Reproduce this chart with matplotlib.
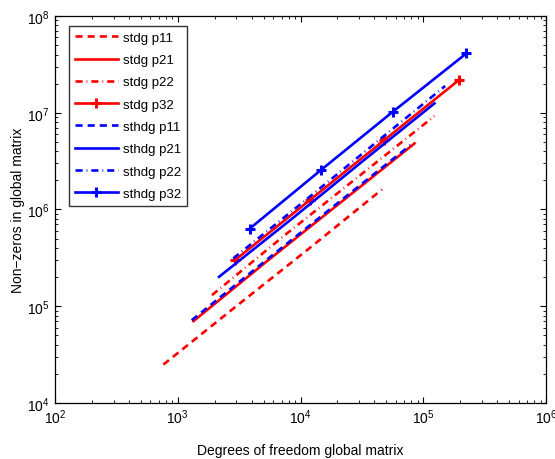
import matplotlib
matplotlib.use("Agg")
import matplotlib.pyplot as plt
from matplotlib.ticker import LogLocator, NullFormatter

plt.rcParams['font.family'] = ['Liberation Sans', 'DejaVu Sans']
plt.rcParams['mathtext.default'] = 'regular'

# Data
stdg_p11_dof = [764, 3000, 11900, 46100]
stdg_p11_nnz = [24900, 1.0e5, 4.0e5, 1.61e6]
stdg_p21_dof = [1343, 5300, 21200, 84900]
stdg_p21_nnz = [70000, 2.9e5, 1.18e6, 4.82e6]
stdg_p22_dof = [1900, 7550, 30500, 123300]
stdg_p22_nnz = [1.30e5, 5.5e5, 2.25e6, 9.25e6]
stdg_p32_dof = [2925, 11900, 48000, 195000]
stdg_p32_nnz = [2.99e5, 1.25e6, 5.2e6, 2.18e7]
sthdg_p11_dof = [1300, 5100, 20000, 78500]
sthdg_p11_nnz = [71600, 2.9e5, 1.16e6, 4.63e6]
sthdg_p21_dof = [2168, 8500, 32500, 123300]
sthdg_p21_nnz = [2.01e5, 8.0e5, 3.2e6, 1.25e7]
sthdg_p22_dof = [2830, 11000, 41000, 150600]
sthdg_p22_nnz = [3.11e5, 1.25e6, 4.9e6, 1.89e7]
sthdg_p32_dof = [3866, 14630, 56230, 224400]
sthdg_p32_nnz = [6.35e5, 2.55e6, 1.02e7, 4.11e7]

labels = ['stdg p11', 'stdg p21', 'stdg p22', 'stdg p32',
          'sthdg p11', 'sthdg p21', 'sthdg p22', 'sthdg p32']

fig = plt.figure(figsize=(5.55, 4.6), dpi=100)
ax = fig.add_axes([0.099, 0.122, 0.885, 0.841])

lw = 1.9
dash = (0, (2.7, 1.9))
dashdot = (0, (2.7, 1.5, 0.3, 1.5))
red = '#ff0000'
blue = '#0000ff'

series = [
    (stdg_p11_dof, stdg_p11_nnz, red, dash, None),
    (stdg_p21_dof, stdg_p21_nnz, red, '-', None),
    (stdg_p22_dof, stdg_p22_nnz, red, dashdot, None),
    (stdg_p32_dof, stdg_p32_nnz, red, '-', '+'),
    (sthdg_p11_dof, sthdg_p11_nnz, blue, dash, None),
    (sthdg_p21_dof, sthdg_p21_nnz, blue, '-', None),
    (sthdg_p22_dof, sthdg_p22_nnz, blue, dashdot, None),
    (sthdg_p32_dof, sthdg_p32_nnz, blue, '-', '+'),
]
for (x, y, c, ls, m), lab in zip(series, labels):
    ax.loglog(x, y, color=c, linestyle=ls, linewidth=lw, marker=m,
              markersize=7, markeredgewidth=2.2, label=lab)

ax.set_xlim(1e2, 1e6)
ax.set_ylim(1e4, 1e8)
ax.xaxis.set_major_locator(LogLocator(base=10, numticks=10))
ax.yaxis.set_major_locator(LogLocator(base=10, numticks=10))
ax.xaxis.set_minor_locator(LogLocator(base=10, subs=range(2, 10), numticks=20))
ax.yaxis.set_minor_locator(LogLocator(base=10, subs=range(2, 10), numticks=20))
ax.xaxis.set_minor_formatter(NullFormatter())
ax.yaxis.set_minor_formatter(NullFormatter())
ax.tick_params(which='both', direction='in', top=True, right=True, labelsize=10)
ax.tick_params(which='major', length=4, width=0.8)
ax.tick_params(which='minor', length=2.2, width=0.6)
ax.tick_params(axis='x', which='major', pad=3.5)
ax.tick_params(axis='y', which='major', pad=4.0)
for s in ax.spines.values():
    s.set_linewidth(0.9)

ax.set_xlabel('Degrees of freedom global matrix', fontsize=10, labelpad=12)
ax.set_ylabel('Non\u2212zeros in global matrix', fontsize=10, labelpad=1.5)

leg = ax.legend(loc='upper left', bbox_to_anchor=(0.02, 0.985), fontsize=9.5,
                frameon=True, fancybox=False, edgecolor='black',
                handlelength=3.3, handletextpad=0.35, labelspacing=0.76,
                borderpad=0.45, borderaxespad=0.3)
leg.get_frame().set_linewidth(1.0)

fig.savefig('out.png', dpi=100)
